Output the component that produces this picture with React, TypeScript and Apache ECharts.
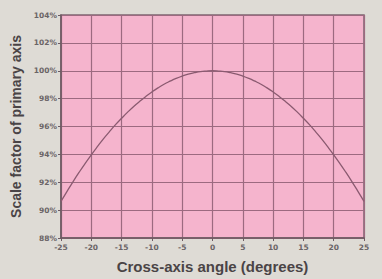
import React, { useEffect, useRef } from "react";
import * as echarts from "echarts";

const angles = [-25,-24,-23,-22,-21,-20,-19,-18,-17,-16,-15,-14,-13,-12,-11,-10,-9,-8,-7,-6,-5,-4,-3,-2,-1,0,1,2,3,4,5,6,7,8,9,10,11,12,13,14,15,16,17,18,19,20,21,22,23,24,25];
const scaleFactor = [90.63,91.35,92.05,92.72,93.36,93.97,94.55,95.11,95.63,96.13,96.59,97.03,97.44,97.81,98.16,98.48,98.77,99.03,99.25,99.45,99.62,99.76,99.86,99.94,99.98,100,99.98,99.94,99.86,99.76,99.62,99.45,99.25,99.03,98.77,98.48,98.16,97.81,97.44,97.03,96.59,96.13,95.63,95.11,94.55,93.97,93.36,92.72,92.05,91.35,90.63];

const xTitle = "Cross-axis angle (degrees)";
const yTitle = "Scale factor of primary axis";

export default function App() {
  const ref = useRef<HTMLDivElement>(null);
  useEffect(() => {
    document.body.style.margin = "0";
    const chart = echarts.init(ref.current!, null, { renderer: "svg" });
    const font = "Liberation Sans";
    const tickFont = "DejaVu Sans";
    chart.setOption({
      animation: false,
      backgroundColor: "#dedbd5",
      grid: { left: 61, right: 18, top: 15, bottom: 39, show: true, backgroundColor: "#f5b4cd", borderColor: "#7e6670", borderWidth: 1.5 },
      xAxis: {
        type: "value",
        min: -25,
        max: 25,
        interval: 5,
        name: xTitle,
        nameLocation: "middle",
        nameGap: 21,
        nameTextStyle: { fontFamily: font, fontWeight: "bold", fontSize: 15, color: "#4a4446" },
        axisLine: { show: true, onZero: false, lineStyle: { color: "#6d5a62", width: 1.5 } },
        axisTick: { show: true, length: 3, lineStyle: { color: "#6d5a62" } },
        axisLabel: { fontFamily: tickFont, fontWeight: "bold", fontSize: 7.5, color: "#6a6466", margin: 5 },
        splitLine: { show: true, lineStyle: { color: "#9c6a80", width: 1.2 } },
      },
      yAxis: {
        type: "value",
        min: 88,
        max: 104,
        interval: 2,
        name: yTitle,
        nameLocation: "middle",
        nameGap: 38,
        nameTextStyle: { fontFamily: font, fontWeight: "bold", fontSize: 14, color: "#4a4446" },
        axisLine: { show: true, onZero: false, lineStyle: { color: "#6d5a62", width: 1.5 } },
        axisTick: { show: true, length: 3, lineStyle: { color: "#6d5a62" } },
        axisLabel: { fontFamily: tickFont, fontWeight: "bold", fontSize: 7.5, color: "#6a6466", margin: 4, formatter: "{value}%" },
        splitLine: { show: true, lineStyle: { color: "#9c6a80", width: 1.2 } },
      },
      series: [
        {
          type: "line",
          data: angles.map((a, i) => [a, scaleFactor[i]]),
          showSymbol: false,
          smooth: true,
          lineStyle: { color: "#8a5a70", width: 1.3 },
        },
      ],
    });
    return () => chart.dispose();
  }, []);
  return <div ref={ref} style={{ width: 382, height: 279 }} />;
}
